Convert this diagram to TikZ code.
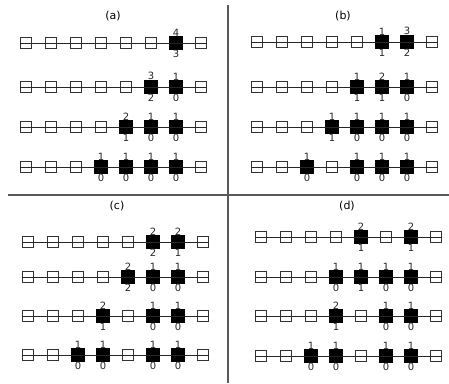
\documentclass[tikz,border=0pt]{standalone}
\usepackage{fontspec}
\setmainfont{DejaVu Sans}
\tikzset{
  cell/.style={draw=black!80, line width=1.1pt, minimum size=11pt, inner sep=0pt},
  hit/.style={draw=black, fill=black, minimum size=13pt, inner sep=0pt, label distance=2pt},
  num/.style={font=\fontsize{10}{10}\selectfont, inner sep=0pt, text=black!85},
  chain/.style={black!85, line width=0.9pt},
  sep/.style={black!65, line width=1.2pt},
  panel/.style={font=\fontsize{11}{12}\selectfont, inner sep=0pt}
}
\begin{document}
\begin{tikzpicture}[x=1pt, y=-1pt]
\useasboundingbox (0,0) rectangle (449,383);
% dividers
\draw[sep] (228,5) -- (228,383);
\draw[sep] (8,195) -- (449,195);
% panel titles
\node[panel] (ta) at (113,16) {(a)};
\node[panel] (tb) at (343,16) {(b)};
\node[panel] (tc) at (117,206) {(c)};
\node[panel] (td) at (347,206) {(d)};

% (a) row 1
\node[cell] (a11) at (26,43) {};
\node[cell] (a12) at (51,43) {};
\node[cell] (a13) at (76,43) {};
\node[cell] (a14) at (101,43) {};
\node[cell] (a15) at (126,43) {};
\node[cell] (a16) at (151,43) {};
\node[hit, label={[num]above:4}, label={[num]below:3}] (a17) at (176,43) {};
\node[cell] (a18) at (201,43) {};
% (a) row 2
\node[cell] (a21) at (26,87) {};
\node[cell] (a22) at (51,87) {};
\node[cell] (a23) at (76,87) {};
\node[cell] (a24) at (101,87) {};
\node[cell] (a25) at (126,87) {};
\node[hit, label={[num]above:3}, label={[num]below:2}] (a26) at (151,87) {};
\node[hit, label={[num]above:1}, label={[num]below:0}] (a27) at (176,87) {};
\node[cell] (a28) at (201,87) {};
% (a) row 3
\node[cell] (a31) at (26,127) {};
\node[cell] (a32) at (51,127) {};
\node[cell] (a33) at (76,127) {};
\node[cell] (a34) at (101,127) {};
\node[hit, label={[num]above:2}, label={[num]below:1}] (a35) at (126,127) {};
\node[hit, label={[num]above:1}, label={[num]below:0}] (a36) at (151,127) {};
\node[hit, label={[num]above:1}, label={[num]below:0}] (a37) at (176,127) {};
\node[cell] (a38) at (201,127) {};
% (a) row 4
\node[cell] (a41) at (26,167) {};
\node[cell] (a42) at (51,167) {};
\node[cell] (a43) at (76,167) {};
\node[hit, label={[num]above:1}, label={[num]below:0}] (a44) at (101,167) {};
\node[hit, label={[num]above:1}, label={[num]below:0}] (a45) at (126,167) {};
\node[hit, label={[num]above:1}, label={[num]below:0}] (a46) at (151,167) {};
\node[hit, label={[num]above:1}, label={[num]below:0}] (a47) at (176,167) {};
\node[cell] (a48) at (201,167) {};

% (b) row 1
\node[cell] (b11) at (257,42) {};
\node[cell] (b12) at (282,42) {};
\node[cell] (b13) at (307,42) {};
\node[cell] (b14) at (332,42) {};
\node[cell] (b15) at (357,42) {};
\node[hit, label={[num]above:1}, label={[num]below:1}] (b16) at (382,42) {};
\node[hit, label={[num]above:3}, label={[num]below:2}] (b17) at (407,42) {};
\node[cell] (b18) at (432,42) {};
% (b) row 2
\node[cell] (b21) at (257,87) {};
\node[cell] (b22) at (282,87) {};
\node[cell] (b23) at (307,87) {};
\node[cell] (b24) at (332,87) {};
\node[hit, label={[num]above:1}, label={[num]below:1}] (b25) at (357,87) {};
\node[hit, label={[num]above:2}, label={[num]below:1}] (b26) at (382,87) {};
\node[hit, label={[num]above:1}, label={[num]below:0}] (b27) at (407,87) {};
\node[cell] (b28) at (432,87) {};
% (b) row 3
\node[cell] (b31) at (257,127) {};
\node[cell] (b32) at (282,127) {};
\node[cell] (b33) at (307,127) {};
\node[hit, label={[num]above:1}, label={[num]below:1}] (b34) at (332,127) {};
\node[hit, label={[num]above:1}, label={[num]below:0}] (b35) at (357,127) {};
\node[hit, label={[num]above:1}, label={[num]below:0}] (b36) at (382,127) {};
\node[hit, label={[num]above:1}, label={[num]below:0}] (b37) at (407,127) {};
\node[cell] (b38) at (432,127) {};
% (b) row 4
\node[cell] (b41) at (257,167) {};
\node[cell] (b42) at (282,167) {};
\node[hit, label={[num]above:1}, label={[num]below:0}] (b43) at (307,167) {};
\node[cell] (b44) at (332,167) {};
\node[hit, label={[num]above:1}, label={[num]below:0}] (b45) at (357,167) {};
\node[hit, label={[num]above:1}, label={[num]below:0}] (b46) at (382,167) {};
\node[hit, label={[num]above:1}, label={[num]below:0}] (b47) at (407,167) {};
\node[cell] (b48) at (432,167) {};

% (c) row 1
\node[cell] (c11) at (28,242) {};
\node[cell] (c12) at (53,242) {};
\node[cell] (c13) at (78,242) {};
\node[cell] (c14) at (103,242) {};
\node[cell] (c15) at (128,242) {};
\node[hit, label={[num]above:2}, label={[num]below:2}] (c16) at (153,242) {};
\node[hit, label={[num]above:2}, label={[num]below:1}] (c17) at (178,242) {};
\node[cell] (c18) at (203,242) {};
% (c) row 2
\node[cell] (c21) at (28,277) {};
\node[cell] (c22) at (53,277) {};
\node[cell] (c23) at (78,277) {};
\node[cell] (c24) at (103,277) {};
\node[hit, label={[num]above:2}, label={[num]below:2}] (c25) at (128,277) {};
\node[hit, label={[num]above:1}, label={[num]below:0}] (c26) at (153,277) {};
\node[hit, label={[num]above:1}, label={[num]below:0}] (c27) at (178,277) {};
\node[cell] (c28) at (203,277) {};
% (c) row 3
\node[cell] (c31) at (28,316) {};
\node[cell] (c32) at (53,316) {};
\node[cell] (c33) at (78,316) {};
\node[hit, label={[num]above:2}, label={[num]below:1}] (c34) at (103,316) {};
\node[cell] (c35) at (128,316) {};
\node[hit, label={[num]above:1}, label={[num]below:0}] (c36) at (153,316) {};
\node[hit, label={[num]above:1}, label={[num]below:0}] (c37) at (178,316) {};
\node[cell] (c38) at (203,316) {};
% (c) row 4
\node[cell] (c41) at (28,355) {};
\node[cell] (c42) at (53,355) {};
\node[hit, label={[num]above:1}, label={[num]below:0}] (c43) at (78,355) {};
\node[hit, label={[num]above:1}, label={[num]below:0}] (c44) at (103,355) {};
\node[cell] (c45) at (128,355) {};
\node[hit, label={[num]above:1}, label={[num]below:0}] (c46) at (153,355) {};
\node[hit, label={[num]above:1}, label={[num]below:0}] (c47) at (178,355) {};
\node[cell] (c48) at (203,355) {};

% (d) row 1
\node[cell] (d11) at (261,237) {};
\node[cell] (d12) at (286,237) {};
\node[cell] (d13) at (311,237) {};
\node[cell] (d14) at (336,237) {};
\node[hit, label={[num]above:2}, label={[num]below:1}] (d15) at (361,237) {};
\node[cell] (d16) at (386,237) {};
\node[hit, label={[num]above:2}, label={[num]below:1}] (d17) at (411,237) {};
\node[cell] (d18) at (436,237) {};
% (d) row 2
\node[cell] (d21) at (261,277) {};
\node[cell] (d22) at (286,277) {};
\node[cell] (d23) at (311,277) {};
\node[hit, label={[num]above:1}, label={[num]below:0}] (d24) at (336,277) {};
\node[hit, label={[num]above:1}, label={[num]below:1}] (d25) at (361,277) {};
\node[hit, label={[num]above:1}, label={[num]below:0}] (d26) at (386,277) {};
\node[hit, label={[num]above:1}, label={[num]below:0}] (d27) at (411,277) {};
\node[cell] (d28) at (436,277) {};
% (d) row 3
\node[cell] (d31) at (261,316) {};
\node[cell] (d32) at (286,316) {};
\node[cell] (d33) at (311,316) {};
\node[hit, label={[num]above:2}, label={[num]below:1}] (d34) at (336,316) {};
\node[cell] (d35) at (361,316) {};
\node[hit, label={[num]above:1}, label={[num]below:0}] (d36) at (386,316) {};
\node[hit, label={[num]above:1}, label={[num]below:0}] (d37) at (411,316) {};
\node[cell] (d38) at (436,316) {};
% (d) row 4
\node[cell] (d41) at (261,356) {};
\node[cell] (d42) at (286,356) {};
\node[hit, label={[num]above:1}, label={[num]below:0}] (d43) at (311,356) {};
\node[hit, label={[num]above:1}, label={[num]below:0}] (d44) at (336,356) {};
\node[cell] (d45) at (361,356) {};
\node[hit, label={[num]above:1}, label={[num]below:0}] (d46) at (386,356) {};
\node[hit, label={[num]above:1}, label={[num]below:0}] (d47) at (411,356) {};
\node[cell] (d48) at (436,356) {};

% chains
\draw[chain] (a11.west) -- (a18.east);
\draw[chain] (a21.west) -- (a28.east);
\draw[chain] (a31.west) -- (a38.east);
\draw[chain] (a41.west) -- (a48.east);
\draw[chain] (b11.west) -- (b18.east);
\draw[chain] (b21.west) -- (b28.east);
\draw[chain] (b31.west) -- (b38.east);
\draw[chain] (b41.west) -- (b48.east);
\draw[chain] (c11.west) -- (c18.east);
\draw[chain] (c21.west) -- (c28.east);
\draw[chain] (c31.west) -- (c38.east);
\draw[chain] (c41.west) -- (c48.east);
\draw[chain] (d11.west) -- (d18.east);
\draw[chain] (d21.west) -- (d28.east);
\draw[chain] (d31.west) -- (d38.east);
\draw[chain] (d41.west) -- (d48.east);
\end{tikzpicture}
\end{document}
